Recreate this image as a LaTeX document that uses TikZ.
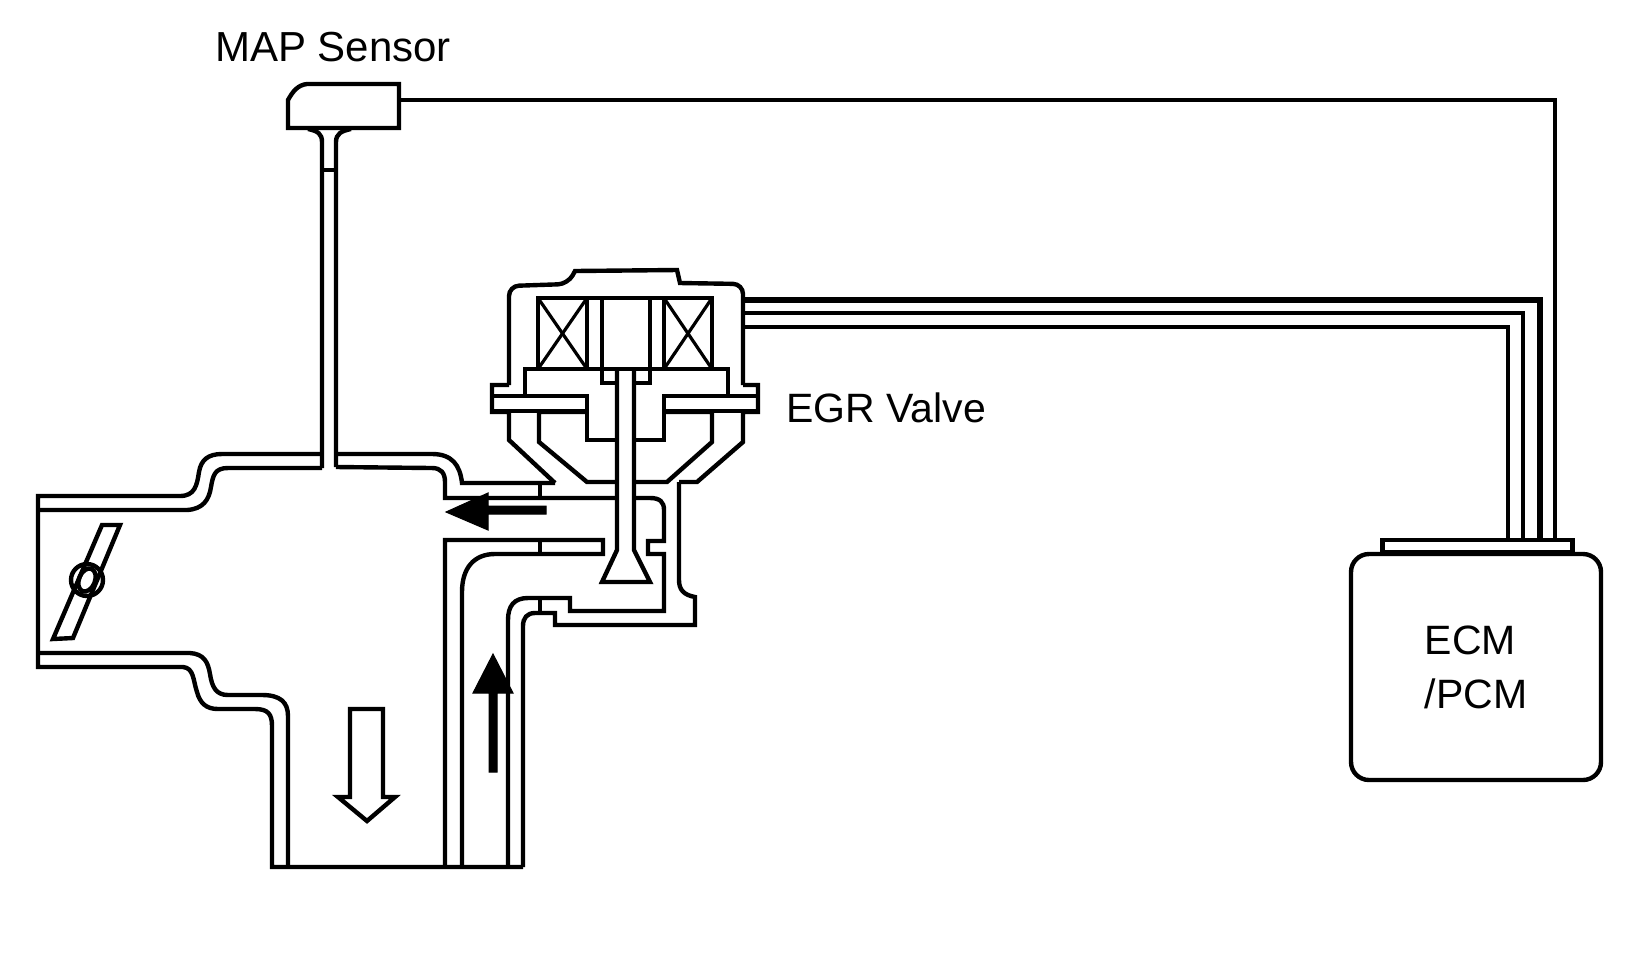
\documentclass[tikz,border=0pt]{standalone}
\usepackage{fontspec}
\setmainfont{Liberation Sans}
\usetikzlibrary{positioning}
\tikzset{
    wall/.style={line width=2.2pt,draw=black,line join=miter},
    thinwall/.style={line width=1.6pt,draw=black},
    label/.style={font=\fontsize{20.5}{27}\selectfont,text=black,inner sep=0pt},
    ecmbox/.style={
        wall,rounded corners=9pt,minimum width=125pt,minimum height=113pt,
        label,align=left
    },
    capbox/.style={wall,minimum width=95pt,minimum height=6pt,inner sep=0pt},
    sensorwire/.style={line width=1.7pt,draw=black},
    buswire/.style={line width=1.9pt,draw=black},
    flow/.style={draw=black,fill=black,line width=.5pt}
}
\begin{document}
\begin{tikzpicture}[x=.5pt,y=-.5pt]
\useasboundingbox (0,0) rectangle (1648,960);

\node[label,font=\fontsize{21}{27}\selectfont] (map) at (333,47) {MAP Sensor};
\node[label] (egr) at (886,408) {EGR Valve};
\node[ecmbox] (ecm) at (1476,667) {ECM\\/PCM};
\node[capbox,above=-1.2pt of ecm,xshift=.75pt] (ecmcap) {};

\coordinate (sensorport) at (401,100);
\coordinate (ecmsensor) at (1555,541);
\coordinate (valvea) at (743,300);
\coordinate (valveb) at (743,313);
\coordinate (valvec) at (743,327);
\coordinate (ecma) at (1540,541);
\coordinate (ecmb) at (1523,541);
\coordinate (ecmc) at (1508,541);

\draw[sensorwire] (sensorport) -| (ecmsensor);
\draw[buswire,line width=2.6pt] (valvea) -| (ecma);
\draw[buswire] (valveb) -| (ecmb);
\draw[buswire] (valvec) -| (ecmc);

% sensor
\draw[wall] (288,100) .. controls (293,91) and (298,85) .. (307,84) -- (399,84) -- (399,128) -- (288,128) -- cycle;
\draw[wall] (308,129) .. controls (318,131) and (322,134) .. (322,142) -- (322,468);
\draw[wall] (351,129) .. controls (341,131) and (336,134) .. (336,142) -- (336,467);
\draw[thinwall] (322,170) -- (336,170);

% manifold
\draw[wall] (322,454) -- (222,454) .. controls (208,454) and (201,460) .. (199,472)
    .. controls (197,485) and (195,496) .. (180,496) -- (38,496) -- (38,667) -- (183,667)
    .. controls (194,668) and (193,680) .. (197,692) .. controls (200,703) and (206,709) .. (218,709)
    -- (255,709) .. controls (268,709) and (272,714) .. (272,726) -- (272,867) -- (523,867);
\draw[wall] (38,510) -- (187,510) .. controls (203,509) and (209,500) .. (211,487)
    .. controls (213,475) and (215,468) .. (228,468) -- (322,468);
\draw[wall] (38,653) -- (190,653) .. controls (204,654) and (208,662) .. (210,674)
    .. controls (212,687) and (216,695) .. (228,695) -- (262,695)
    .. controls (280,695) and (288,702) .. (288,716) -- (288,867);
\draw[wall] (336,454) -- (432,454) .. controls (452,454) and (460,465) .. (462,483) -- (555,483);
\draw[wall] (336,467) -- (432,468) .. controls (441,468) and (445,473) .. (445,482) -- (445,498) -- (616,498);
\draw[wall] (445,867) -- (445,540) -- (603,540) -- (603,554) -- (495,554)
    .. controls (474,554) and (462,568) .. (462,592) -- (462,867);
\draw[wall] (508,867) -- (508,620) .. controls (508,606) and (514,598) .. (528,598) -- (570,598)
    -- (570,611) -- (664,611) -- (664,554) -- (648,554) -- (648,541) -- (664,541) -- (664,510)
    .. controls (664,502) and (660,498) .. (650,498) -- (635,498);
\draw[wall] (523,867) -- (523,626) .. controls (523,618) and (527,613) .. (535,613) -- (555,613)
    -- (555,625) -- (695,625) -- (695,597) .. controls (684,595) and (679,590) .. (679,580) -- (679,482);
\draw[thinwall] (540,483) -- (540,498);
\draw[thinwall] (540,540) -- (540,554);
\draw[thinwall] (540,598) -- (540,613);

% valve
\draw[wall,rounded corners=5pt] (509,385) -- (509,286) -- (568,284) [sharp corners] -- (575,271) -- (677,270) -- (680,283)
    [rounded corners=5pt] -- (743,284) -- (743,385);
\draw[wall] (509,385) -- (492,385) -- (492,412) -- (509,412) -- (509,440) -- (555,483);
\draw[wall] (743,385) -- (758,385) -- (758,412) -- (743,412) -- (743,442) -- (697,482) -- (679,482);
\draw[wall] (492,396) -- (587,396) -- (587,440) -- (616,440);
\draw[wall] (492,411) -- (587,411);
\draw[wall] (758,396) -- (664,396) -- (664,440) -- (635,440);
\draw[wall] (758,411) -- (664,411);
\draw[wall] (587,412) -- (539,412) -- (539,442) -- (587,482) -- (616,482);
\draw[wall] (664,412) -- (712,412) -- (712,442) -- (667,482) -- (635,482);
\draw[wall] (525,396) -- (525,369) -- (728,369) -- (728,396);
\draw[wall] (538,369) -- (538,298) -- (712,298) -- (712,369);
\draw[wall] (587,298) -- (587,369);
\draw[wall] (602,298) -- (602,383) -- (616,383);
\draw[wall] (650,298) -- (650,383) -- (635,383);
\draw[wall] (664,298) -- (664,369);
\draw[thinwall] (538,298) -- (587,369);
\draw[thinwall] (587,298) -- (538,369);
\draw[thinwall] (664,298) -- (712,369);
\draw[thinwall] (712,298) -- (664,369);
\draw[wall] (617,371) -- (617,550) -- (602,582) -- (650,582) -- (634,550) -- (634,371);

% throttle
\draw[wall] (102,525) -- (120,525) -- (73,638) -- (53,639) -- cycle;
\draw[wall] (87,580) circle (16);
\draw[wall] (87,580) ellipse [x radius=8,y radius=12,rotate=-22];

% flow arrows
\draw[wall] (350,709) -- (383,709) -- (383,797) -- (395,797) -- (367,821) -- (338,797) -- (350,797) -- cycle;
\draw[flow] (489,772) -- (489,693) -- (473,693) -- (493,654) -- (513,693) -- (497,693) -- (497,772) -- cycle;
\draw[flow] (546,506) -- (488,506) -- (488,493) -- (446,512) -- (488,530) -- (488,514) -- (546,514) -- cycle;

\end{tikzpicture}
\end{document}
